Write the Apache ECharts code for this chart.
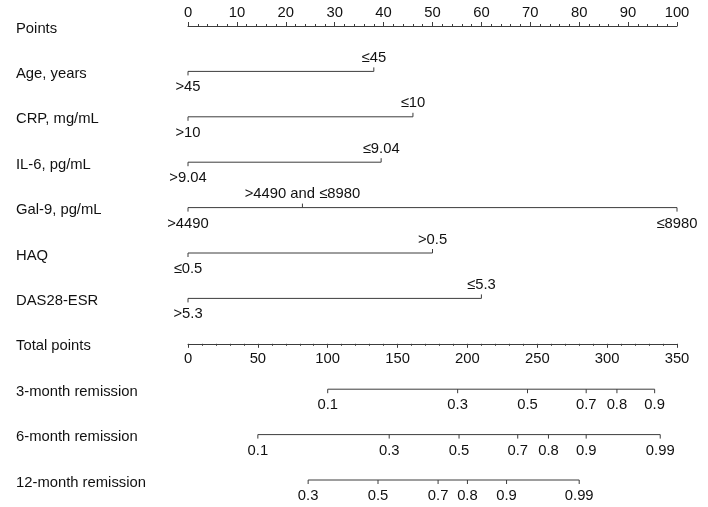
<!DOCTYPE html>
<html><head><meta charset="utf-8">
<script src="https://cdn.jsdelivr.net/npm/echarts@6/dist/echarts.min.js"></script>
<style>html,body{margin:0;padding:0;background:#fff}#c{width:708px;height:507px}</style>
</head><body><div id="c"></div>
<script>
// ---- data ----
const rowNames = ['Points','Age, years','CRP, mg/mL','IL-6, pg/mL','Gal-9, pg/mL','HAQ','DAS28-ESR','Total points','3-month remission','6-month remission','12-month remission'];

const ageLabels  = ['>45','≤45'];               const agePoints  = [0, 38];
const crpLabels  = ['>10','≤10'];               const crpPoints  = [0, 46];
const il6Labels  = ['>9.04','≤9.04'];           const il6Points  = [0, 39.5];
const gal9Labels = ['>4490','>4490 and ≤8980','≤8980']; const gal9Points = [0, 23.4, 100];
const haqLabels  = ['≤0.5','>0.5'];             const haqPoints  = [0, 50];
const dasLabels  = ['>5.3','≤5.3'];             const dasPoints  = [0, 60];

const m3Labels  = ['0.1','0.3','0.5','0.7','0.8','0.9'];        const m3Total  = [100, 193, 243, 285, 307, 334];
const m6Labels  = ['0.1','0.3','0.5','0.7','0.8','0.9','0.99']; const m6Total  = [50, 144, 194, 236, 258, 285, 338];
const m12Labels = ['0.3','0.5','0.7','0.8','0.9','0.99'];       const m12Total = [86, 136, 179, 200, 228, 280];

const pointsMax = 100, pointsStep = 10;
const totalMax = 350, totalStep = 50;

// ---- styles ----
const FONT = "'Liberation Sans', Arial, Helvetica, sans-serif";
const FS = 14.8;
const TXT = '#111';
const LINE = '#3c3c3c';

const variables = [
  {row: 1, labels: ageLabels,  vals: agePoints},
  {row: 2, labels: crpLabels,  vals: crpPoints},
  {row: 3, labels: il6Labels,  vals: il6Points},
  {row: 4, labels: gal9Labels, vals: gal9Points},
  {row: 5, labels: haqLabels,  vals: haqPoints},
  {row: 6, labels: dasLabels,  vals: dasPoints}
];
const remissions = [
  {row: 8,  labels: m3Labels,  vals: m3Total},
  {row: 9,  labels: m6Labels,  vals: m6Total},
  {row: 10, labels: m12Labels, vals: m12Total}
];

function makeRender(list, alternate) {
  return function (params, api) {
    const item = list[params.dataIndex];
    const children = [];
    const p0 = api.coord([item.vals[0], item.row]);
    const p1 = api.coord([item.vals[item.vals.length - 1], item.row]);
    children.push({type: 'line', shape: {x1: p0[0], y1: p0[1], x2: p1[0], y2: p1[1]},
      style: {stroke: LINE, lineWidth: 1}});
    item.vals.forEach((v, i) => {
      const p = api.coord([v, item.row]);
      const up = alternate && (i % 2 === 1);
      const tl = 4;
      children.push({type: 'line',
        shape: {x1: p[0], y1: p[1], x2: p[0], y2: up ? p[1] - tl : p[1] + tl},
        style: {stroke: LINE, lineWidth: 1}});
      children.push({type: 'text',
        style: {text: item.labels[i], x: p[0], y: up ? p[1] - 13.5 : p[1] + 16,
          textAlign: 'center', textVerticalAlign: 'middle', align: 'center', verticalAlign: 'middle',
          font: FS + 'px ' + FONT, fill: TXT}});
    });
    return {type: 'group', children: children};
  };
}

const rowStep = (507 - 26 - 27) / (rowNames.length - 1);

const axisCommon = {
  axisLine: {show: true, onZero: false, lineStyle: {color: LINE, width: 1}},
  axisTick: {show: true, length: 4, lineStyle: {color: LINE, width: 1}},
  minorTick: {show: true, splitNumber: 5, length: 2, lineStyle: {color: LINE, width: 1}},
  splitLine: {show: false},
  minorSplitLine: {show: false}
};

const chart = echarts.init(document.getElementById('c'), null, {renderer: 'canvas'});
chart.setOption({
  animation: false,
  backgroundColor: '#fff',
  grid: [
    {left: 188, right: 31, top: 26, bottom: 27},
    {left: 188, right: 31, top: 26, height: rowStep * 7}
  ],
  xAxis: [
    Object.assign({gridIndex: 0, type: 'value', position: 'top', min: 0, max: pointsMax, interval: pointsStep,
      axisLabel: {margin: 6, fontSize: FS, color: TXT, fontFamily: FONT}}, axisCommon),
    {gridIndex: 0, type: 'value', position: 'bottom', min: 0, max: totalMax, show: false},
    Object.assign({gridIndex: 1, type: 'value', position: 'bottom', min: 0, max: totalMax, interval: totalStep,
      axisLabel: {margin: 8, fontSize: FS, color: TXT, fontFamily: FONT}}, axisCommon)
  ],
  yAxis: [
    {gridIndex: 0, type: 'category', inverse: true, boundaryGap: false, data: rowNames,
      axisLine: {show: false}, axisTick: {show: false}, splitLine: {show: false},
      axisLabel: {align: 'left', margin: 172, interval: 0,
        formatter: '{n|{value}}',
        rich: {n: {fontSize: FS, color: TXT, fontFamily: FONT, padding: [5, 0, 0, 0]}}}},
    {gridIndex: 1, type: 'value', show: false}
  ],
  series: [
    {type: 'custom', xAxisIndex: 0, yAxisIndex: 0, clip: false,
      data: variables.map(v => [v.vals[0], v.row]), encode: {x: 0, y: 1},
      renderItem: makeRender(variables, true)},
    {type: 'custom', xAxisIndex: 1, yAxisIndex: 0, clip: false,
      data: remissions.map(v => [v.vals[0], v.row]), encode: {x: 0, y: 1},
      renderItem: makeRender(remissions, false)}
  ]
});
</script></body></html>
